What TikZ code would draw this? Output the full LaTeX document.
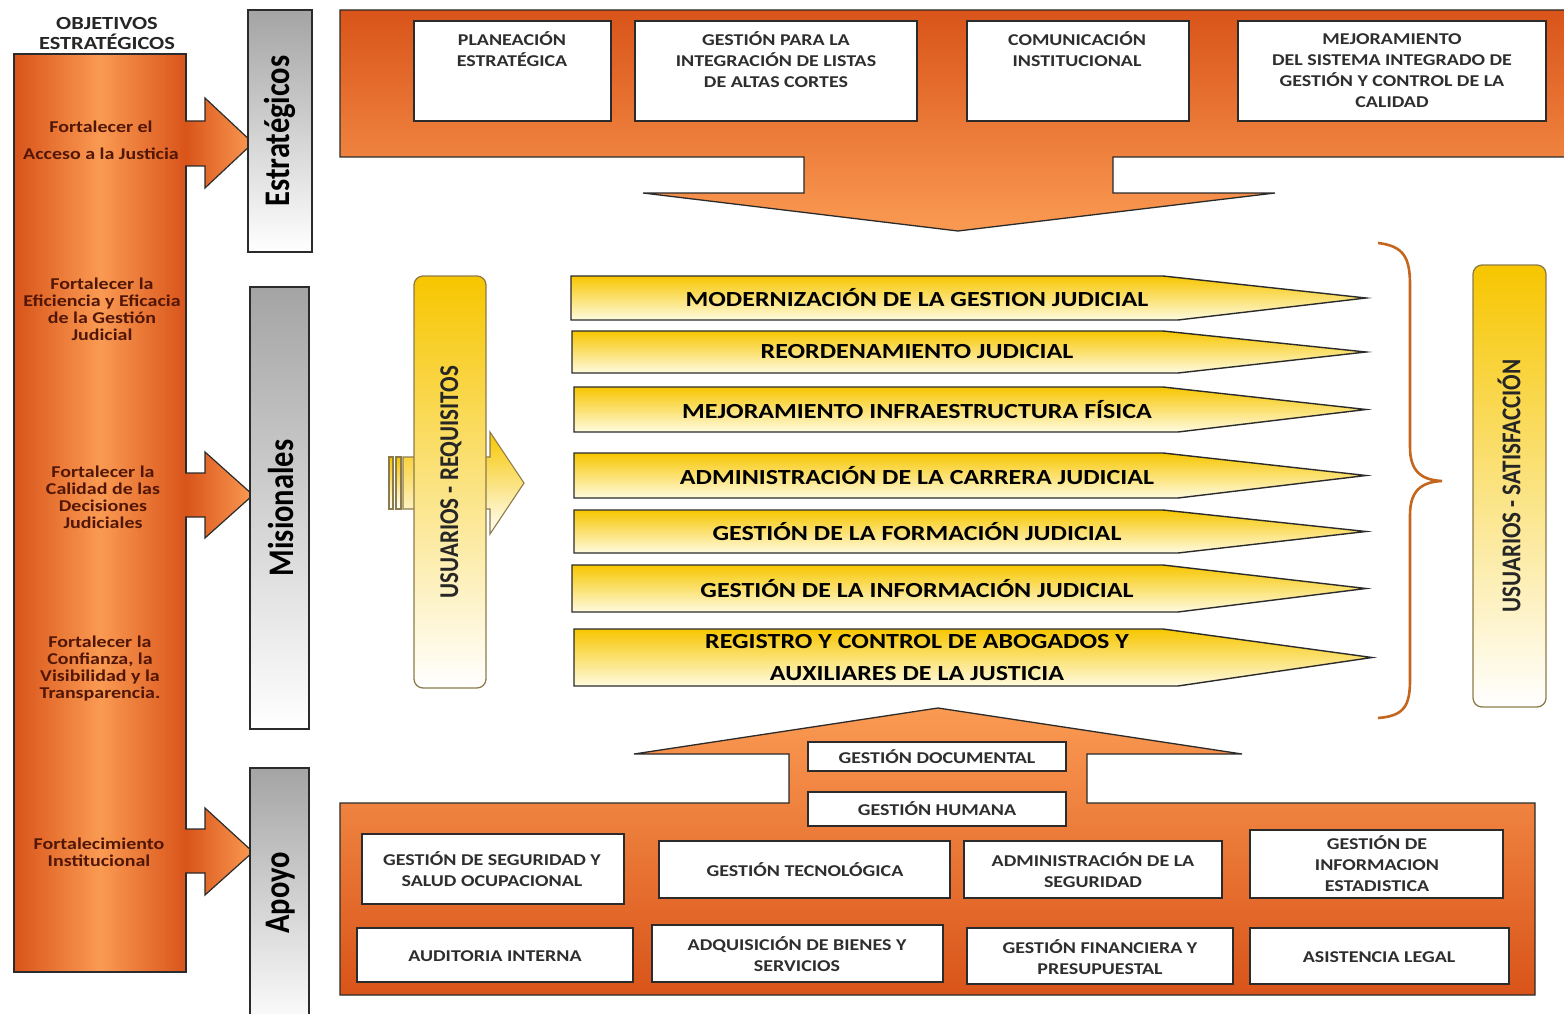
\documentclass[tikz,border=0pt]{standalone}
\usepackage{fontspec}
\setmainfont{Carlito}
\newfontfamily\wfont{Carlito}[FakeStretch=1.21]
\usetikzlibrary{positioning}

\definecolor{orDark}{HTML}{D9541A}
\definecolor{orLight}{HTML}{FA9A52}
\definecolor{goldY}{HTML}{F7C600}
\definecolor{paleY}{HTML}{FFFBE0}
\definecolor{grayTop}{HTML}{A4A4A4}
\definecolor{braceC}{HTML}{C4661E}
\definecolor{objTxt}{HTML}{521606}
\definecolor{edgeC}{HTML}{2B2B2B}
\definecolor{yEdge}{HTML}{8C7B4A}

\tikzset{
  colbox/.style={draw=edgeC, line width=1.3pt},
  whitebox/.style={draw=edgeC, line width=1.7pt, fill=white},
  boxtxt/.style={font=\wfont\bfseries\fontsize{16.5}{21}\selectfont, text=black!82, align=center, inner sep=0pt},
  objtxt/.style={font=\wfont\bfseries\fontsize{16.5}{17}\selectfont, text=objTxt, align=center, inner sep=0pt},
  proctxt/.style={font=\wfont\bfseries\fontsize{21.5}{32}\selectfont, align=center, inner sep=0pt},
  bandtxt/.style={font=\bfseries\fontsize{30.5}{36}\selectfont, rotate=90, inner sep=0pt},
  usrtxt/.style={font=\bfseries\fontsize{23}{28}\selectfont, text=black!85, rotate=90, inner sep=0pt},
  grayband/.style={draw=edgeC, line width=1.3pt, top color=grayTop, bottom color=white},
  yband/.style={draw=yEdge, line width=1.3pt, rounded corners=9pt, top color=goldY, bottom color=white},
  yarrow/.style={draw=yEdge, line width=1.1pt, top color=goldY, bottom color=white},
  procarrow/.style={draw=edgeC, line width=1.4pt, top color=goldY, bottom color=paleY},
  blockarrow/.style={draw=edgeC, line width=1.2pt, left color=orDark, right color=orLight},
}

\begin{document}
\begin{tikzpicture}[x=1pt,y=-1pt]
\useasboundingbox (0,0) rectangle (1564,1014);

% objetivos
\node[font=\wfont\bfseries\fontsize{18.5}{20}\selectfont, align=center, text=black!85] (objtit) at (107,33) {OBJETIVOS\\ESTRATÉGICOS};
\draw[colbox, left color=orDark, right color=orDark, middle color=orLight] (14,54) rectangle (186,972);
\node[objtxt] (obj1) at (101,140) {Fortalecer el\\[10pt]Acceso a la Justicia};
\node[objtxt] (obj2) at (102,309) {Fortalecer la\\Eficiencia y Eficacia\\de la Gestión\\Judicial};
\node[objtxt] (obj3) at (103,497) {Fortalecer la\\Calidad de las\\Decisiones\\Judiciales};
\node[objtxt] (obj4) at (100,669) {Fortalecer la\\Confianza, la\\Visibilidad y la\\Transparencia.};
\node[objtxt] (obj5) at (99,852) {Fortalecimiento\\Institucional};

\draw[blockarrow] (185,121) -- (205,121) -- (205,98) -- (253,143) -- (205,188) -- (205,166) -- (185,166);
\draw[blockarrow] (185,473) -- (205,473) -- (205,452) -- (253,495) -- (205,538) -- (205,517) -- (185,517);
\draw[blockarrow] (185,829) -- (205,829) -- (205,808) -- (253,852) -- (205,895) -- (205,873) -- (185,873);

% procesos
\draw[grayband] (248,10) rectangle (312,252);
\node[bandtxt] (estr) at (280,131) {\scalebox{1}[1.18]{Estratégicos}};
\draw[grayband] (250,287) rectangle (309,729);
\node[bandtxt] (mision) at (281,508) {\scalebox{1}[1.18]{Misionales}};
\draw[grayband] (250,768) rectangle (309,1030);
\node[bandtxt] (apoyo) at (281,893) {\scalebox{1}[1.18]{Apoyo}};

% estrategicos
\draw[colbox, top color=orDark, bottom color=orLight] (340,10) -- (1575,10) -- (1575,157) -- (1113,157) -- (1113,193) -- (1275,193) -- (958,231) -- (643,193) -- (804,193) -- (804,157) -- (340,157) -- cycle;
\foreach \xa/\ya/\xb/\yb/\xt/\yt/\nm/\txt in {
  414/21/611/121/512/49.5/planea/{PLANEACIÓN\\ESTRATÉGICA},
  635/21/917/121/776/60/listas/{GESTIÓN PARA LA\\INTEGRACIÓN DE LISTAS\\DE ALTAS CORTES},
  967/21/1189/121/1077/49.5/comun/{COMUNICACIÓN\\INSTITUCIONAL},
  1238/21/1546/121/1392/70.5/sigcma/{MEJORAMIENTO\\DEL SISTEMA INTEGRADO DE\\GESTIÓN Y CONTROL DE LA\\CALIDAD}}{
  \draw[whitebox] (\xa,\ya) rectangle (\xb,\yb);
  \node[boxtxt] (\nm) at (\xt,\yt) {\txt};
}

% misionales
\draw[yarrow] (403,457) -- (490,457) -- (490,432) -- (524,483) -- (490,534) -- (490,509) -- (403,509) -- cycle;
\draw[yarrow] (389,457) rectangle (393,509);
\draw[yarrow] (396,457) rectangle (401,509);
\draw[yband] (414,276) rectangle (486,688);
\node[usrtxt] (usreq) at (451,482) {\scalebox{1}[1.18]{USUARIOS - REQUISITOS}};

\foreach \ya/\yb/\xl/\tip/\txt [count=\i] in {
  276/320/571/1366/{MODERNIZACIÓN DE LA GESTION JUDICIAL},
  331/373/572/1366/{REORDENAMIENTO JUDICIAL},
  387/432/574/1366/{MEJORAMIENTO INFRAESTRUCTURA FÍSICA},
  453/498/574/1366/{ADMINISTRACIÓN DE LA CARRERA JUDICIAL},
  510/553/574/1366/{GESTIÓN DE LA FORMACIÓN JUDICIAL},
  565/612/572/1366/{GESTIÓN DE LA INFORMACIÓN JUDICIAL},
  629/686/574/1372/{REGISTRO Y CONTROL DE ABOGADOS Y\\AUXILIARES DE LA JUSTICIA}}{
  \draw[procarrow] (\xl,\ya) -- (1163,\ya) -- (\tip,{(\ya+\yb)/2}) -- (1178,\yb) -- (\xl,\yb) -- cycle;
  \node[proctxt] (proc\i) at (917,{(\ya+\yb)/2}) {\txt};
}

\draw[braceC, line width=2.6pt] (1378,243) .. controls (1404,246) and (1410,258) .. (1410,285) -- (1410,447)
  .. controls (1410,470) and (1420,480) .. (1442,481) .. controls (1420,482) and (1410,492) .. (1410,515)
  -- (1410,680) .. controls (1410,706) and (1404,716) .. (1378,718);
\draw[yband] (1473,265) rectangle (1546,707);
\node[usrtxt] (ussat) at (1509,486) {\scalebox{1}[1.18]{USUARIOS - SATISFACCIÓN}};

% apoyo
\draw[colbox, top color=orLight, bottom color=orDark] (340,803) -- (789,803) -- (789,754) -- (634,754) -- (938,708) -- (1242,754) -- (1087,754) -- (1087,803) -- (1535,803) -- (1535,995) -- (340,995) -- cycle;
\foreach \xa/\ya/\xb/\yb/\xt/\yt/\nm/\txt in {
  808/742/1066/771/937/757/gdoc/{GESTIÓN DOCUMENTAL},
  808/792/1066/826/937/809/ghum/{GESTIÓN HUMANA},
  362/834/624/904/492/869.5/gsso/{GESTIÓN DE SEGURIDAD Y\\SALUD OCUPACIONAL},
  659/841/950/898/805/870/gtec/{GESTIÓN TECNOLÓGICA},
  964/841/1222/898/1093/870.5/aseg/{ADMINISTRACIÓN DE LA\\SEGURIDAD},
  1250/830/1503/898/1377/864/gest/{GESTIÓN DE\\INFORMACION\\ESTADISTICA},
  357/928/633/982/495/956/audi/{AUDITORIA INTERNA},
  652/925/943/982/797/954.5/adq/{ADQUISICIÓN DE BIENES Y\\SERVICIOS},
  967/928/1233/984/1100/957.5/gfin/{GESTIÓN FINANCIERA Y\\PRESUPUESTAL},
  1250/928/1509/984/1379/957/asleg/{ASISTENCIA LEGAL}}{
  \draw[whitebox] (\xa,\ya) rectangle (\xb,\yb);
  \node[boxtxt] (\nm) at (\xt,\yt) {\txt};
}
\end{tikzpicture}
\end{document}
